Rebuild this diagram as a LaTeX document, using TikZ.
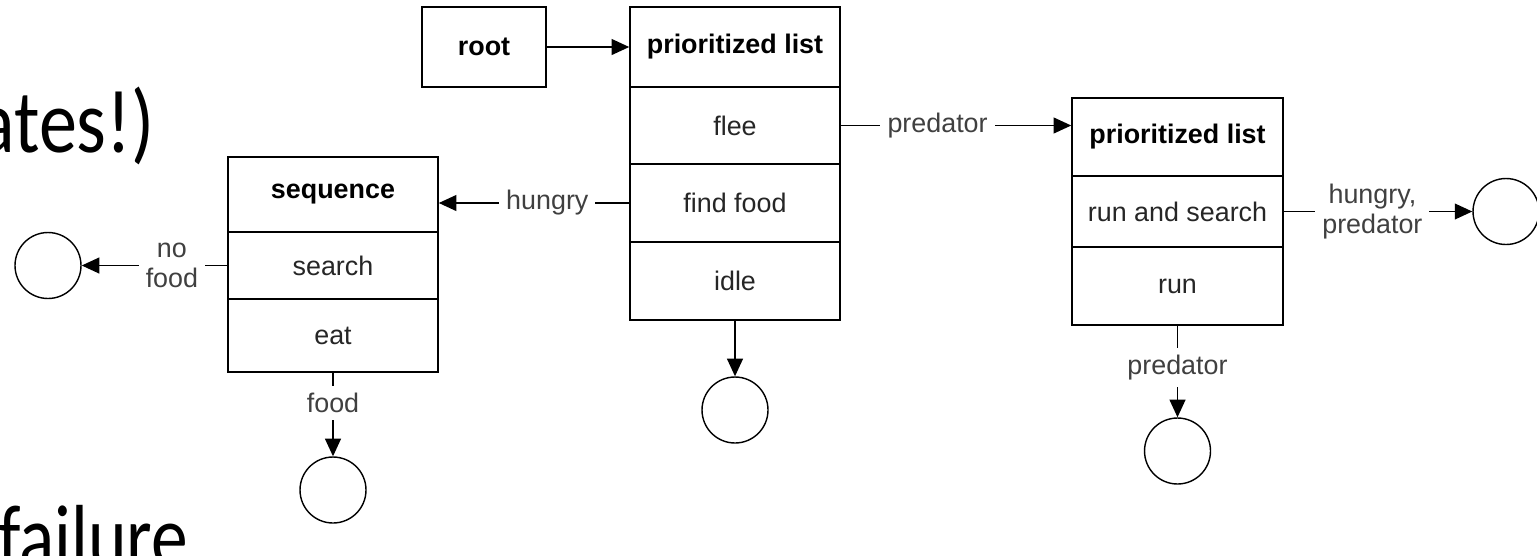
\documentclass[tikz,border=0pt]{standalone}
\usepackage{fontspec}
\setmainfont{Liberation Sans}
\newfontfamily\slidefont{Carlito}
\usetikzlibrary{arrows.meta, positioning}

\begin{document}
\begin{tikzpicture}[x=0.02cm, y=-0.02cm, row/.style={draw, line
      width=0.9pt, minimum width=4.2cm, inner sep=0pt,
      font=\fontsize{15.3pt}{18pt}\selectfont, text=black!85},
      headrow/.style={row, font=\fontsize{15.3pt}{18pt}\selectfont\bfseries,
      text=black}, endstate/.style={circle, draw, line width=0.8pt, minimum
      size=1.32cm, inner sep=0pt}, flow/.style={line width=0.9pt,
      -{Triangle[length=10pt, width=9pt]}}, cond/.style={fill=white, inner
      sep=4pt, align=center, font=\fontsize{15.3pt}{17pt}\selectfont,
      text=black!75}, slidetext/.style={inner sep=0pt,
      font=\fontsize{51pt}{60pt}\selectfont\slidefont} ]
    \clip (0,0) rectangle (1537,555);

    % Slide text behind the chart
    \node[slidetext, anchor=base east] (tail) at (155,152)
    {\scalebox{0.85}[1]{ates!)}}; \node[slidetext, anchor=base west] (fail) at
    (-2,567) {\scalebox{0.82}[1]{failure}};

    % Root
    \node[headrow, minimum width=2.48cm, minimum height=1.6cm] (root) at
    (484,47) {root};

    % First prioritized list
    \node[headrow, minimum height=1.6cm] (head1) at (735,47) {prioritized
    list}; \node[row, minimum height=1.54cm] (flee) at (735,125.5) {flee};
    \node[row, minimum height=1.56cm] (findfood) at (735,203) {find food};
    \node[row, minimum height=1.56cm] (idle) at (735,281) {idle};

    % Sequence
    \node[headrow, minimum height=1.5cm] (head3) at (333,194.5) {sequence};
    \node[row, minimum height=1.34cm] (search) at (333,265.5) {search};
    \node[row, minimum height=1.46cm] (eat) at (333,335.5) {eat};

    % Second prioritized list
    \node[headrow, minimum width=4.22cm, minimum height=1.56cm] (head2) at
    (1177.5,137) {prioritized list}; \node[row, minimum width=4.22cm, minimum
    height=1.42cm] (runsearch) at (1177.5,211.5) {run and search}; \node[row,
    minimum width=4.22cm, minimum height=1.56cm] (run) at (1177.5,286) {run};

    % End states
    \node[endstate] (endA) at (48,265.5) {}; \node[endstate] (endB) at
    (333,490) {}; \node[endstate] (endC) at (735,410) {}; \node[endstate]
    (endD) at (1177.5,451) {}; \node[endstate] (endE) at (1506,211.5) {};

    % Transitions
    \draw[flow] (root) -- (head1);
    \draw[flow] (flee.east) -- node[cond, pos=0.42] {predator} (flee.east -|
    head2.west);
    \draw[flow] (findfood.west) -- node[cond, pos=0.43] {hungry}
    (findfood.west -| head3.east);
    \draw[flow] (search) -- node[cond, pos=0.38] {no\\food} (endA);
    \draw[flow] (eat) -- node[cond, pos=0.36] {food} (endB);
    \draw[flow] (idle) -- (endC);
    \draw[flow] (run) -- node[cond, pos=0.46] {predator} (endD);
    \draw[flow] (runsearch) -- node[cond, pos=0.47] {hungry,\\predator}
    (endE);

    \end{tikzpicture}
\end{document}
